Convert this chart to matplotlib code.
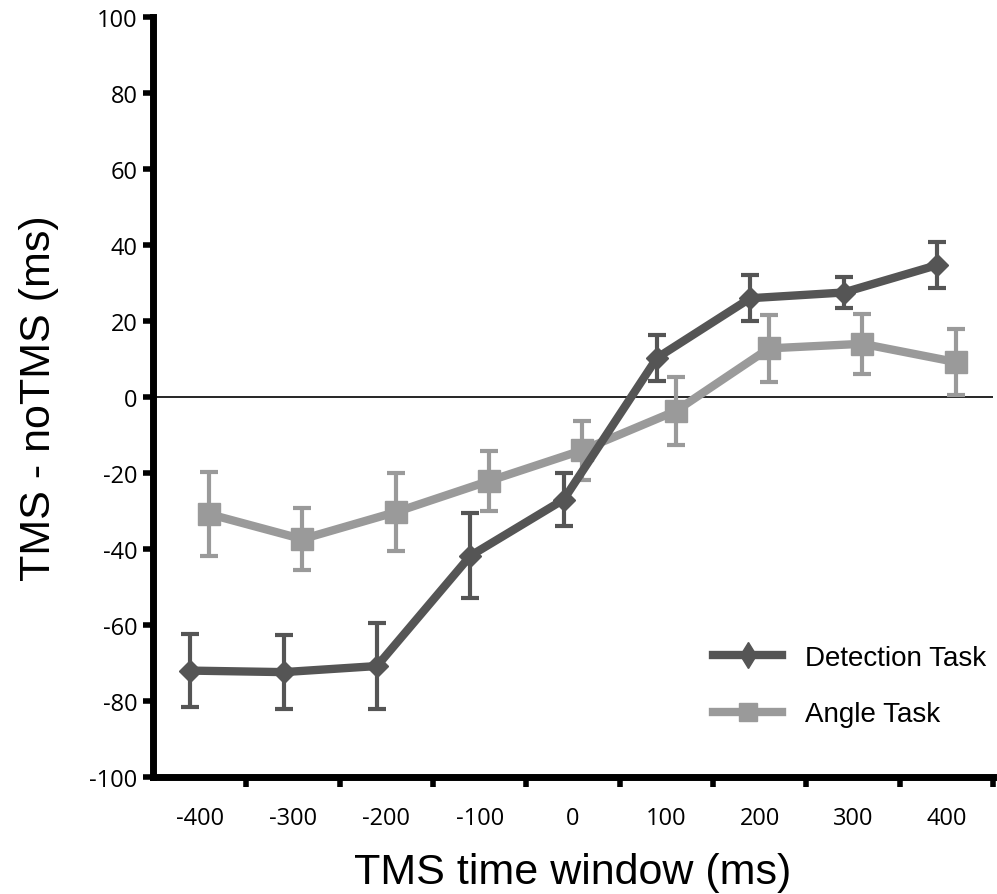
import matplotlib.pyplot as plt
from matplotlib.lines import Line2D
import numpy as np

# TMS time windows (ms)
windows = [-400, -300, -200, -100, 0, 100, 200, 300, 400]

# Detection task: TMS - noTMS (ms) and error bars
detect_mean = [-72, -72.4, -70.8, -41.8, -27, 10.3, 26, 27.5, 34.7]
detect_err = [9.6, 9.7, 11.3, 11.2, 7, 6, 6, 4.1, 6.1]

# Angle task
angle_mean = [-30.8, -37.4, -30.3, -22.1, -14, -3.7, 12.8, 14, 9.2]
angle_err = [11, 8.2, 10.2, 7.9, 7.8, 9, 8.8, 7.9, 8.8]

dark = '#555555'
light = '#9a9a9a'

fig = plt.figure(figsize=(9.97, 8.95), dpi=100)
ax = fig.add_axes([153 / 997, 117 / 895, 840 / 997, 760 / 895])

x = np.array(windows, dtype=float)

ax.axhline(0, color='black', lw=1.2, zorder=1)

ax.errorbar(x + 10, angle_mean, yerr=angle_err, color=light, lw=6,
            marker='s', markersize=16.5, elinewidth=3, capsize=6.5, capthick=3,
            zorder=2)
ax.errorbar(x - 10, detect_mean, yerr=detect_err, color=dark, lw=6,
            marker='D', markersize=11.5, elinewidth=3, capsize=6.5, capthick=3,
            zorder=3)

ax.set_xlim(-450, 450)
ax.set_ylim(-100, 100)

# tick marks at the category edges, labels at the centres
ax.set_xticks(np.arange(-350, 451, 100))
ax.set_xticklabels([])
ax.set_xticks(windows, minor=True)
ax.set_xticklabels([str(w) for w in windows], minor=True, fontsize=17,
                   family='Open Sans')
ax.tick_params(axis='x', which='major', length=7, width=4, direction='out')
ax.tick_params(axis='x', which='minor', length=0, pad=21)

ax.set_yticks(np.arange(-100, 101, 20))
ax.set_yticklabels([str(v) for v in range(-100, 101, 20)], fontsize=17,
                   family='Open Sans')
ax.tick_params(axis='y', length=7, width=4, direction='out', pad=4)

for s in ['top', 'right']:
    ax.spines[s].set_visible(False)
for s in ['left', 'bottom']:
    ax.spines[s].set_linewidth(5)

ax.set_xlabel('TMS time window (ms)', fontsize=31, family='Liberation Sans',
              labelpad=16)
ax.set_ylabel('TMS - noTMS (ms)', fontsize=31, family='Liberation Sans',
              labelpad=22)

handles = [
    Line2D([], [], color=dark, lw=6, marker='d', markersize=13),
    Line2D([], [], color=light, lw=6, marker='s', markersize=13),
]
ax.legend(handles, ['Detection Task', 'Angle Task'], loc='center left',
          bbox_to_anchor=(713 / 997, 1 - 687 / 895),
          bbox_transform=fig.transFigure, frameon=False, borderpad=0,
          borderaxespad=0, handlelength=2.5, handletextpad=0.8,
          labelspacing=1.1, prop={'family': 'Liberation Sans', 'size': 20})

fig.savefig('out.png', dpi=100)
